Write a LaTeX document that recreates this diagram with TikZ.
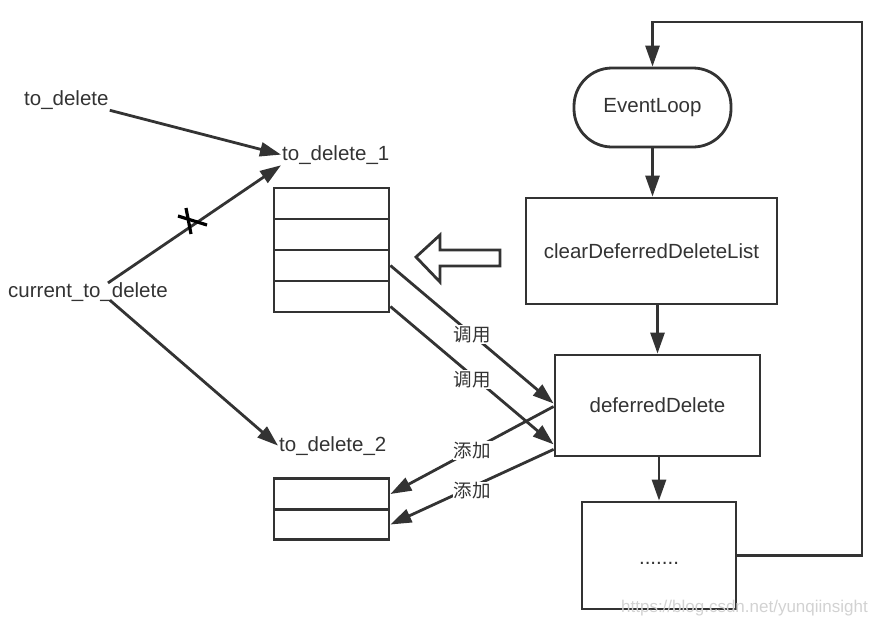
\documentclass[tikz,border=0pt]{standalone}
\usepackage{fontspec}
\setmainfont{Liberation Sans}
\newfontfamily\cjk{Noto Sans CJK SC}
\usetikzlibrary{arrows.meta,calc}
\definecolor{ink}{HTML}{333333}
\begin{document}
\begin{tikzpicture}[x=1pt,y=-1pt,
  every node/.style={font=\fontsize{20.5}{24}\selectfont, text=ink},
  box/.style={draw=ink, line width=2.8pt, inner sep=0pt},
  txt/.style={inner sep=1pt, anchor=base west},
  conn/.style={draw=ink, line width=2.8pt, -{Triangle[length=21pt,width=14pt]}},
  lab/.style={fill=white, inner sep=1pt, font=\cjk\fontsize{18.5}{20}\selectfont},
  rowbox/.style={draw=ink, line width=2.8pt, minimum width=115pt, minimum height=31pt, inner sep=0pt}]
\useasboundingbox (0,0) rectangle (877,625);
% flow chart on the right
\node[box, rounded corners=38pt, minimum width=157pt, minimum height=79pt] (ev) at (652.5,107.5) {EventLoop};
\node[box, minimum width=251pt, minimum height=106pt] (clr) at (651.5,251) {clearDeferredDeleteList};
\node[box, minimum width=205pt, minimum height=101pt] (dd) at (657.5,405.5) {deferredDelete};
\node[box, minimum width=154pt, minimum height=107pt] (dots) at (659,555.5) {};
\node (dotstxt) at (659,563) {.......};
\coordinate (loopc) at (862,22);
\draw[conn] (ev.south) -- (ev.south |- clr.north);
\draw[conn] (dd.north |- clr.south) -- (dd.north);
\draw[conn] (dots.north |- dd.south) -- (dots.north);
\draw[conn] (dots.east) -| (loopc) -| (ev.north);
% lists
\node[rowbox] (a1) at (331.5,203.5) {};
\node[rowbox] (a2) at (331.5,234.5) {};
\node[rowbox] (a3) at (331.5,265.5) {};
\node[rowbox] (a4) at (331.5,296.5) {};
\node[rowbox, minimum height=30.5pt] (b1) at (331.5,494) {};
\node[rowbox, minimum height=30.5pt] (b2) at (331.5,524.5) {};
% hollow arrow
\draw[ink, line width=2.8pt, line join=miter] (416,257) -- (440,235) -- (440,250) -- (500,250) -- (500,266) -- (440,266) -- (440,282) -- cycle;
% pointer labels
\node[txt] (td) at (23,105) {to\_delete};
\node[txt] (td1) at (281,160) {to\_delete\_1};
\node[txt] (ctd) at (7,297) {current\_to\_delete};
\node[txt] (td2) at (278,451) {to\_delete\_2};
\draw[conn] (td.south east) -- (td1.west);
\draw[conn] ($(ctd.north)+(20,2)$) -- (td1.south west);
\draw[conn] ($(ctd.south)+(22,-2)$) -- (td2.west);
% cross mark
\draw[black, line width=3.2pt] (178,216) -- (207,225);
\draw[black, line width=3.2pt] (186,208) -- (191,234);
% calls
\draw[conn] (a3.east) -- ($(dd.west)+(0,-2)$) node[lab, pos=0.5] (c1) {调用};
\draw[conn] ($(a4.east)+(0,10)$) -- ($(dd.south west)+(0,-13)$) node[lab, pos=0.5, yshift=-4pt] (c2) {调用};
% adds
\draw[conn] ($(dd.west)+(0,1)$) -- (b1.east) node[lab, pos=0.5] (d1) {添加};
\draw[conn] ($(dd.south west)+(0,-8)$) -- (b2.east) node[lab, pos=0.5, yshift=-4pt] (d2) {添加};
% watermark
\node[text=gray!35, font=\fontsize{17}{20}\selectfont, anchor=base east, inner sep=0pt] (wm) at (868,612) {https://blog.csdn.net/yunqiinsight};
\end{tikzpicture}
\end{document}
